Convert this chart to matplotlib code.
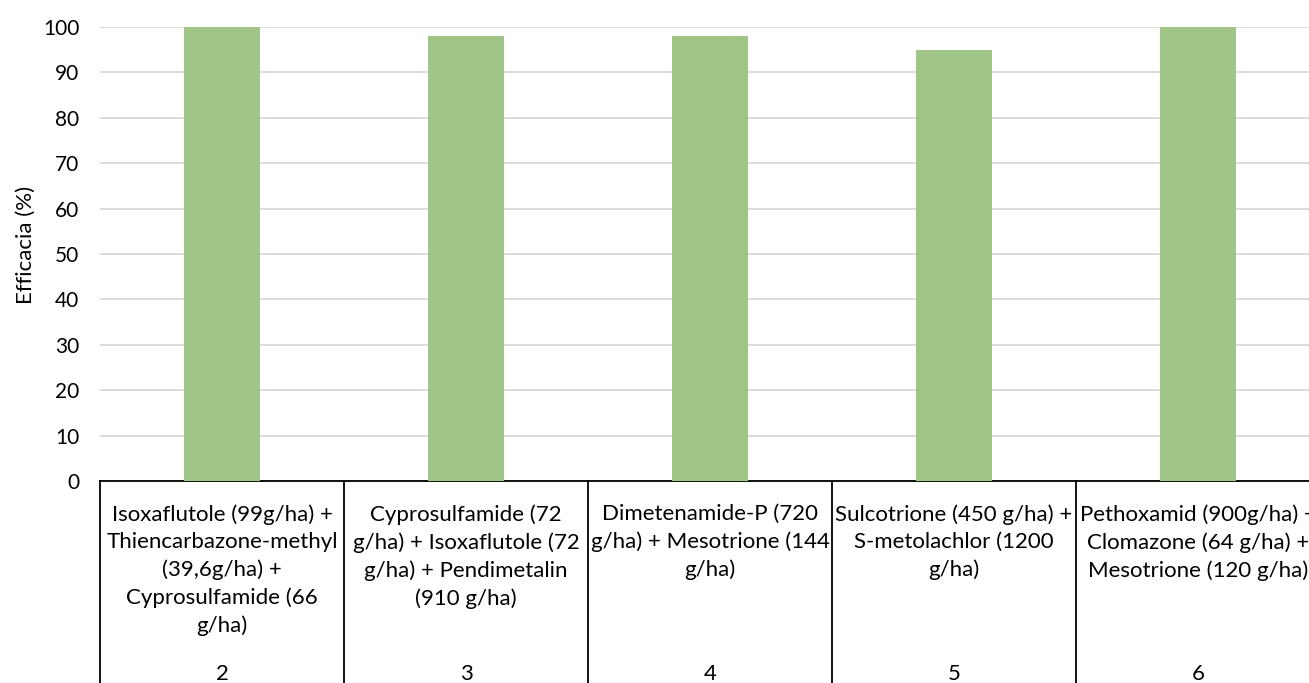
import numpy as np
import matplotlib.pyplot as plt
from matplotlib.transforms import blended_transform_factory

plt.rcParams['font.family'] = ['Lato', 'DejaVu Sans']

# trattamenti e efficacia
codes = ['2', '3', '4', '5', '6']
treatments = [
    'Isoxaflutole (99g/ha) +\nThiencarbazone-methyl\n(39,6g/ha) +\nCyprosulfamide (66\ng/ha)',
    'Cyprosulfamide (72\ng/ha) + Isoxaflutole (72\ng/ha) + Pendimetalin\n(910 g/ha)',
    'Dimetenamide-P (720\ng/ha) + Mesotrione (144\ng/ha)',
    'Sulcotrione (450 g/ha) +\nS-metolachlor (1200\ng/ha)',
    'Pethoxamid (900g/ha) +\nClomazone (64 g/ha) +\nMesotrione (120 g/ha)',
]
efficacy = [100, 98, 98, 95, 100]

W, H = 1309, 683
fig = plt.figure(figsize=(W / 100, H / 100), dpi=100)
# plot area runs a little past the right edge, like the original export
ax = fig.add_axes([100 / W, (H - 481) / H, 1220 / W, (481 - 27) / H])

x = np.arange(len(codes))
ax.bar(x, efficacy, width=0.31, color='#A1C586', zorder=3)

ax.set_xlim(-0.5, len(codes) - 0.5)
ax.set_ylim(0, 100)
ax.set_yticks(np.arange(0, 101, 10))
ax.yaxis.grid(True, color='#D9D9D9', linewidth=1.3, zorder=0)
ax.set_xticks([])
ax.tick_params(axis='y', length=0, labelsize=15, pad=15)
for s in ['left', 'right', 'top']:
    ax.spines[s].set_visible(False)
ax.spines['bottom'].set_color('black')
ax.spines['bottom'].set_linewidth(1.3)
ax.set_ylabel('Efficacia (%)', fontsize=16)
ax.yaxis.set_label_coords(-64 / 1220, 0.52)

# two-level category axis: treatment names and trial numbers in boxes
tr = blended_transform_factory(ax.transData, ax.transAxes)
px = 1 / (481 - 27)
for b in np.arange(-0.5, len(codes), 1.0):
    ax.plot([b, b], [0, -0.6], transform=tr, color='black',
            linewidth=1.3, clip_on=False)
for i in x:
    ax.text(i, -23 * px, treatments[i], transform=tr, ha='center', va='top',
            fontsize=16, linespacing=1.45)
    ax.text(i, -(674 - 481) * px, codes[i], transform=tr, ha='center',
            va='center', fontsize=16)

fig.savefig('out.png', dpi=100)
